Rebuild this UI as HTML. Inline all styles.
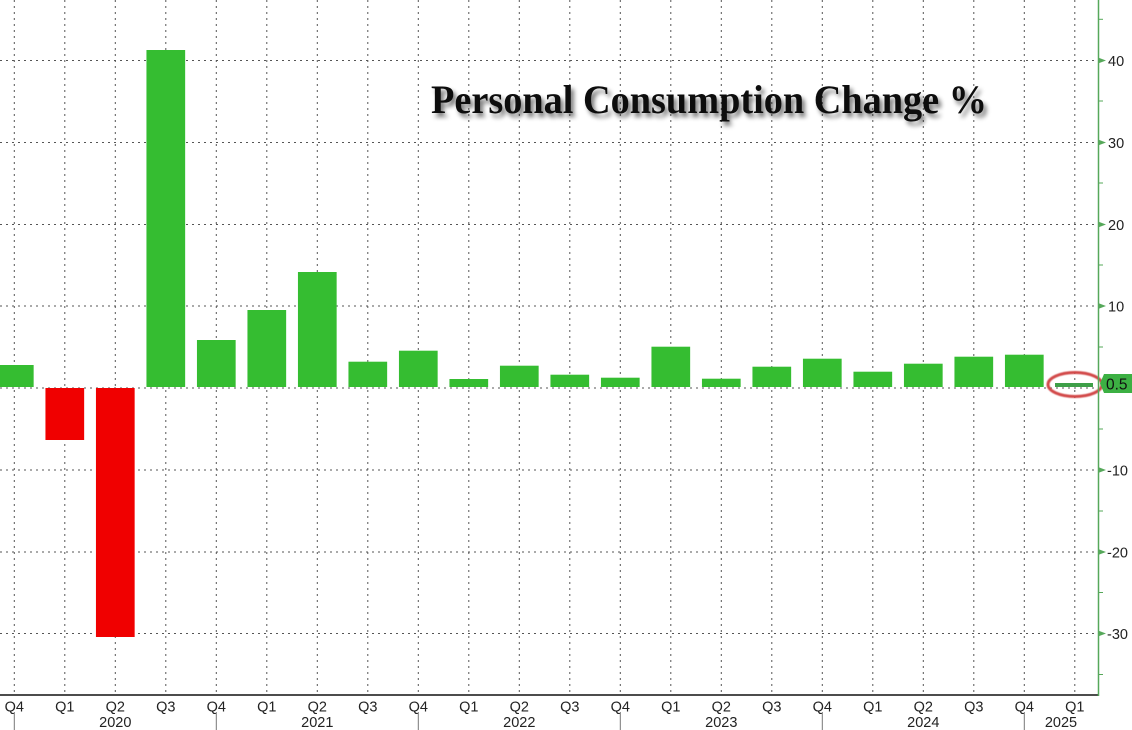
<!DOCTYPE html>
<html>
<head>
<meta charset="utf-8">
<style>
html,body{margin:0;padding:0;background:#fff;}
svg{display:block;}
.ql{font-family:"Liberation Sans",sans-serif;font-size:14.5px;fill:#222;text-anchor:middle;}
.yl{font-family:"Liberation Sans",sans-serif;font-size:14.5px;fill:#222;}
</style>
</head>
<body>
<svg width="1132" height="730" viewBox="0 0 1132 730" xmlns="http://www.w3.org/2000/svg">
<defs>
<filter id="sh" x="-10%" y="-30%" width="120%" height="170%">
<feGaussianBlur in="SourceAlpha" stdDeviation="2.5"/>
<feOffset dx="3" dy="4" result="b"/>
<feComponentTransfer><feFuncA type="linear" slope="0.55"/></feComponentTransfer>
<feMerge><feMergeNode/><feMergeNode in="SourceGraphic"/></feMerge>
</filter>
<filter id="bl"><feGaussianBlur stdDeviation="0.6"/></filter>
</defs>
<rect width="1132" height="730" fill="#fff"/>

<!-- vertical gridlines -->
<g stroke="#555" stroke-width="1" stroke-dasharray="2 4">
<line x1="14.3" y1="0" x2="14.3" y2="695"/>
<line x1="64.8" y1="0" x2="64.8" y2="695"/>
<line x1="115.3" y1="0" x2="115.3" y2="695"/>
<line x1="165.8" y1="0" x2="165.8" y2="695"/>
<line x1="216.3" y1="0" x2="216.3" y2="695"/>
<line x1="266.8" y1="0" x2="266.8" y2="695"/>
<line x1="317.3" y1="0" x2="317.3" y2="695"/>
<line x1="367.8" y1="0" x2="367.8" y2="695"/>
<line x1="418.3" y1="0" x2="418.3" y2="695"/>
<line x1="468.8" y1="0" x2="468.8" y2="695"/>
<line x1="519.3" y1="0" x2="519.3" y2="695"/>
<line x1="569.8" y1="0" x2="569.8" y2="695"/>
<line x1="620.3" y1="0" x2="620.3" y2="695"/>
<line x1="670.8" y1="0" x2="670.8" y2="695"/>
<line x1="721.3" y1="0" x2="721.3" y2="695"/>
<line x1="771.8" y1="0" x2="771.8" y2="695"/>
<line x1="822.3" y1="0" x2="822.3" y2="695"/>
<line x1="872.8" y1="0" x2="872.8" y2="695"/>
<line x1="923.3" y1="0" x2="923.3" y2="695"/>
<line x1="973.8" y1="0" x2="973.8" y2="695"/>
<line x1="1024.3" y1="0" x2="1024.3" y2="695"/>
<line x1="1074.8" y1="0" x2="1074.8" y2="695"/>
</g>
<!-- horizontal gridlines -->
<g stroke="#555" stroke-width="1" stroke-dasharray="2 4">
<line x1="0" y1="60.5" x2="1098" y2="60.5"/>
<line x1="0" y1="142.5" x2="1098" y2="142.5"/>
<line x1="0" y1="224.5" x2="1098" y2="224.5"/>
<line x1="0" y1="306" x2="1098" y2="306"/>
<line x1="0" y1="388" x2="1098" y2="388"/>
<line x1="0" y1="470" x2="1098" y2="470"/>
<line x1="0" y1="552" x2="1098" y2="552"/>
<line x1="0" y1="633.5" x2="1098" y2="633.5"/>
</g>

<!-- title -->
<text x="431" y="113" font-family="'Liberation Serif',serif" font-weight="bold" font-size="40" fill="#111" textLength="556" lengthAdjust="spacingAndGlyphs" filter="url(#sh)">Personal Consumption Change %</text>

<!-- bars -->
<g fill="#35bd31">
<rect x="-5.05" y="365" width="38.7" height="22"/>
<rect x="146.45" y="50" width="38.7" height="337"/>
<rect x="196.95" y="340" width="38.7" height="47"/>
<rect x="247.45" y="310" width="38.7" height="77"/>
<rect x="297.95" y="272" width="38.7" height="115"/>
<rect x="348.45" y="361.7" width="38.7" height="25.3"/>
<rect x="398.95" y="350.7" width="38.7" height="36.3"/>
<rect x="449.45" y="379" width="38.7" height="8"/>
<rect x="499.95" y="365.7" width="38.7" height="21.3"/>
<rect x="550.45" y="374.7" width="38.7" height="12.3"/>
<rect x="600.95" y="377.7" width="38.7" height="9.3"/>
<rect x="651.45" y="346.7" width="38.7" height="40.3"/>
<rect x="701.95" y="378.7" width="38.7" height="8.3"/>
<rect x="752.45" y="366.7" width="38.7" height="20.3"/>
<rect x="802.95" y="358.7" width="38.7" height="28.3"/>
<rect x="853.45" y="371.7" width="38.7" height="15.3"/>
<rect x="903.95" y="363.7" width="38.7" height="23.3"/>
<rect x="954.45" y="356.7" width="38.7" height="30.3"/>
<rect x="1004.95" y="354.7" width="38.7" height="32.3"/>
</g>
<g fill="#f00000">
<rect x="45.45" y="388" width="38.7" height="52"/>
<rect x="95.95" y="388" width="38.7" height="249"/>
</g>
<rect x="1055" y="383" width="38" height="4" fill="#3e9f48"/>

<!-- ellipse highlight -->
<ellipse cx="1075" cy="384.5" rx="27" ry="12" fill="none" stroke="#d24848" stroke-width="3" filter="url(#bl)"/>

<!-- x axis -->
<line x1="0" y1="695" x2="1099" y2="695" stroke="#111" stroke-width="1.5"/>
<!-- right axis -->
<line x1="1098.5" y1="0" x2="1098.5" y2="696" stroke="#56a85a" stroke-width="1.5"/>
<g stroke="#56a85a" stroke-width="1">
<line x1="1098" y1="19.3" x2="1103" y2="19.3"/>
<line x1="1098" y1="101" x2="1103" y2="101"/>
<line x1="1098" y1="183" x2="1103" y2="183"/>
<line x1="1098" y1="265" x2="1103" y2="265"/>
<line x1="1098" y1="347" x2="1103" y2="347"/>
<line x1="1098" y1="429" x2="1103" y2="429"/>
<line x1="1098" y1="511" x2="1103" y2="511"/>
<line x1="1098" y1="592.5" x2="1103" y2="592.5"/>
<line x1="1098" y1="674.5" x2="1103" y2="674.5"/>
</g>
<g fill="#56a85a">
<polygon points="1098,57.5 1106,60.5 1098,63.5"/>
<polygon points="1098,139.5 1106,142.5 1098,145.5"/>
<polygon points="1098,221.5 1106,224.5 1098,227.5"/>
<polygon points="1098,303 1106,306 1098,309"/>
<polygon points="1098,467 1106,470 1098,473"/>
<polygon points="1098,549 1106,552 1098,555"/>
<polygon points="1098,630.5 1106,633.5 1098,636.5"/>
</g>
<g class="yl">
<text x="1108" y="66">40</text>
<text x="1108" y="148">30</text>
<text x="1108" y="230">20</text>
<text x="1108" y="311.5">10</text>
<text x="1107" y="475.5">-10</text>
<text x="1107" y="557.5">-20</text>
<text x="1107" y="639">-30</text>
</g>
<!-- 0.5 tag -->
<polygon points="1100,383.5 1104,374 1132,374 1132,393 1104,393" fill="#3cb043"/>
<text x="1106" y="389.5" font-family="'Liberation Sans',sans-serif" font-size="15.5" fill="#111">0.5</text>

<!-- quarter labels -->
<g class="ql">
<text x="14.3" y="711.5">Q4</text>
<text x="64.8" y="711.5">Q1</text>
<text x="115.3" y="711.5">Q2</text>
<text x="165.8" y="711.5">Q3</text>
<text x="216.3" y="711.5">Q4</text>
<text x="266.8" y="711.5">Q1</text>
<text x="317.3" y="711.5">Q2</text>
<text x="367.8" y="711.5">Q3</text>
<text x="418.3" y="711.5">Q4</text>
<text x="468.8" y="711.5">Q1</text>
<text x="519.3" y="711.5">Q2</text>
<text x="569.8" y="711.5">Q3</text>
<text x="620.3" y="711.5">Q4</text>
<text x="670.8" y="711.5">Q1</text>
<text x="721.3" y="711.5">Q2</text>
<text x="771.8" y="711.5">Q3</text>
<text x="822.3" y="711.5">Q4</text>
<text x="872.8" y="711.5">Q1</text>
<text x="923.3" y="711.5">Q2</text>
<text x="973.8" y="711.5">Q3</text>
<text x="1024.3" y="711.5">Q4</text>
<text x="1074.8" y="711.5">Q1</text>
<text x="115.3" y="727">2020</text>
<text x="317.3" y="727">2021</text>
<text x="519.3" y="727">2022</text>
<text x="721.3" y="727">2023</text>
<text x="923.3" y="727">2024</text>
<text x="1061" y="727">2025</text>
</g>
<!-- year separators -->
<g stroke="#777" stroke-width="1">
<line x1="14.3" y1="712" x2="14.3" y2="730"/>
<line x1="216.3" y1="712" x2="216.3" y2="730"/>
<line x1="418.3" y1="712" x2="418.3" y2="730"/>
<line x1="620.3" y1="712" x2="620.3" y2="730"/>
<line x1="822.3" y1="712" x2="822.3" y2="730"/>
<line x1="1024.3" y1="712" x2="1024.3" y2="730"/>
</g>
</svg>
</body>
</html>
